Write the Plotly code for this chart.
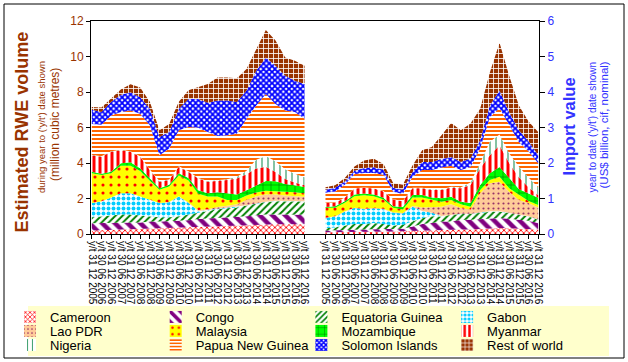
import plotly.graph_objects as go

# ---------------- data ----------------
periods = ["31 12 2005", "30 06 2006", "31 12 2006", "30 06 2007", "31 12 2007",
           "30 06 2008", "31 12 2008", "30 06 2009", "31 12 2009", "30 06 2010",
           "31 12 2010", "30 06 2011", "31 12 2011", "30 06 2012", "31 12 2012",
           "30 06 2013", "31 12 2013", "30 06 2014", "31 12 2014", "30 06 2015",
           "31 12 2015", "30 06 2016", "31 12 2016"]
tick_labels = ["y/t " + p for p in periods]

countries = ["Cameroon", "Congo", "Equatoria Guinea", "Gabon",
             "Lao PDR", "Malaysia", "Mozambique", "Myanmar",
             "Nigeria", "Papua New Guinea", "Solomon Islands", "Rest of world"]

# Estimated RWE volume (million m3), y/t at each date
cameroon_v = [0.20, 0.22, 0.25, 0.25, 0.28, 0.30, 0.30, 0.32, 0.35, 0.38, 0.40, 0.42, 0.45, 0.45, 0.48, 0.50, 0.50, 0.52, 0.55, 0.55, 0.55, 0.55, 0.55]
congo_v = [0.40, 0.40, 0.37, 0.40, 0.37, 0.35, 0.40, 0.38, 0.37, 0.37, 0.38, 0.43, 0.43, 0.45, 0.42, 0.45, 0.50, 0.53, 0.55, 0.55, 0.55, 0.55, 0.53]
eqguinea_v = [0.35, 0.38, 0.43, 0.45, 0.45, 0.40, 0.30, 0.25, 0.23, 0.25, 0.32, 0.35, 0.42, 0.50, 0.55, 0.55, 0.60, 0.65, 0.70, 0.75, 0.75, 0.75, 0.75]
gabon_v = [0.79, 0.83, 1.00, 1.19, 1.19, 1.06, 0.92, 0.79, 0.84, 1.11, 0.65, 0.10, 0.05, 0.02, 0.02, 0.02, 0.02, 0.02, 0.02, 0.02, 0.02, 0.02, 0.02]
lao_v = [0.01, 0.01, 0.01, 0.01, 0.01, 0.01, 0.01, 0.01, 0.01, 0.01, 0.02, 0.05, 0.05, 0.10, 0.12, 0.15, 0.30, 0.40, 0.40, 0.35, 0.30, 0.28, 0.25]
malaysia_v = [1.67, 1.49, 1.36, 1.55, 1.55, 1.43, 1.07, 0.74, 0.88, 1.17, 1.24, 0.92, 0.71, 0.59, 0.33, 0.25, 0.25, 0.22, 0.22, 0.20, 0.20, 0.20, 0.20]
mozambique_v = [0.09, 0.06, 0.09, 0.13, 0.19, 0.15, 0.14, 0.09, 0.09, 0.13, 0.14, 0.20, 0.18, 0.24, 0.37, 0.30, 0.30, 0.40, 0.55, 0.55, 0.45, 0.40, 0.35]
myanmar_v = [0.93, 0.96, 1.12, 0.74, 0.59, 0.65, 0.46, 0.37, 0.27, 0.37, 0.35, 0.66, 0.66, 0.64, 0.75, 0.91, 0.89, 0.95, 0.80, 0.53, 0.28, 0.15, 0.10]
nigeria_v = [0.03, 0.03, 0.03, 0.03, 0.03, 0.03, 0.03, 0.03, 0.03, 0.03, 0.03, 0.03, 0.03, 0.03, 0.05, 0.10, 0.20, 0.50, 0.60, 0.60, 0.55, 0.50, 0.45]
png_v = [1.73, 1.77, 2.02, 2.12, 2.30, 2.39, 2.49, 1.46, 1.74, 2.02, 2.50, 2.82, 2.77, 2.50, 2.47, 2.42, 2.93, 3.05, 3.50, 3.23, 3.31, 3.47, 3.29]
solomon_v = [0.80, 0.72, 0.75, 0.97, 1.03, 0.93, 0.93, 1.03, 0.94, 1.21, 1.57, 1.62, 1.64, 2.00, 1.96, 1.78, 1.59, 1.96, 2.05, 2.15, 1.96, 1.77, 1.96]
rest_v = [0.15, 0.25, 0.20, 0.30, 0.45, 0.55, 0.40, 0.37, 0.45, 0.40, 0.50, 0.66, 1.06, 1.30, 1.30, 1.34, 1.21, 1.20, 1.56, 1.42, 1.02, 1.12, 1.03]

# Import value (US$ billion, cif, nominal), y/t at each date
cameroon_p = [0.05, 0.05, 0.06, 0.06, 0.07, 0.07, 0.07, 0.07, 0.08, 0.09, 0.10, 0.12, 0.12, 0.12, 0.13, 0.13, 0.15, 0.16, 0.17, 0.16, 0.15, 0.14, 0.13]
congo_p = [0.05, 0.06, 0.06, 0.07, 0.06, 0.07, 0.07, 0.07, 0.07, 0.12, 0.18, 0.19, 0.23, 0.23, 0.27, 0.27, 0.27, 0.28, 0.28, 0.27, 0.25, 0.23, 0.18]
eqguinea_p = [0.07, 0.07, 0.12, 0.15, 0.15, 0.17, 0.14, 0.10, 0.11, 0.15, 0.17, 0.19, 0.14, 0.19, 0.16, 0.16, 0.17, 0.19, 0.18, 0.16, 0.14, 0.12, 0.09]
gabon_p = [0.28, 0.31, 0.39, 0.45, 0.42, 0.41, 0.42, 0.36, 0.32, 0.41, 0.20, 0.10, 0.02, 0.01, 0.01, 0.01, 0.01, 0.01, 0.01, 0.01, 0.01, 0.01, 0.01]
lao_p = [0.01, 0.01, 0.01, 0.01, 0.01, 0.01, 0.01, 0.01, 0.01, 0.02, 0.10, 0.17, 0.26, 0.29, 0.16, 0.11, 0.55, 0.79, 0.83, 0.59, 0.41, 0.37, 0.34]
malaysia_p = [0.28, 0.24, 0.24, 0.32, 0.38, 0.33, 0.26, 0.13, 0.10, 0.24, 0.28, 0.19, 0.14, 0.12, 0.11, 0.09, 0.09, 0.09, 0.14, 0.10, 0.14, 0.06, 0.07]
mozambique_p = [0.02, 0.04, 0.04, 0.05, 0.05, 0.05, 0.05, 0.04, 0.07, 0.07, 0.07, 0.07, 0.10, 0.09, 0.07, 0.10, 0.14, 0.19, 0.28, 0.28, 0.17, 0.21, 0.20]
myanmar_p = [0.12, 0.10, 0.10, 0.17, 0.16, 0.17, 0.18, 0.19, 0.16, 0.19, 0.19, 0.21, 0.23, 0.26, 0.38, 0.51, 0.47, 0.51, 0.61, 0.43, 0.33, 0.18, 0.08]
nigeria_p = [0.01, 0.01, 0.01, 0.01, 0.01, 0.01, 0.01, 0.01, 0.01, 0.01, 0.01, 0.02, 0.02, 0.02, 0.03, 0.07, 0.15, 0.38, 0.30, 0.27, 0.30, 0.27, 0.22]
png_p = [0.27, 0.31, 0.36, 0.40, 0.41, 0.43, 0.46, 0.21, 0.20, 0.31, 0.50, 0.54, 0.61, 0.59, 0.48, 0.44, 0.41, 0.69, 0.75, 0.79, 0.69, 0.74, 0.67]
solomon_p = [0.09, 0.10, 0.09, 0.09, 0.14, 0.16, 0.14, 0.11, 0.12, 0.14, 0.23, 0.23, 0.24, 0.25, 0.23, 0.24, 0.23, 0.33, 0.49, 0.37, 0.33, 0.28, 0.23]
rest_p = [0.07, 0.07, 0.10, 0.12, 0.21, 0.24, 0.16, 0.14, 0.14, 0.18, 0.33, 0.42, 0.67, 0.96, 0.89, 0.98, 0.89, 0.93, 1.35, 1.03, 0.70, 0.56, 0.65]

volume_series = [cameroon_v, congo_v, eqguinea_v, gabon_v, lao_v, malaysia_v,
                 mozambique_v, myanmar_v, nigeria_v, png_v, solomon_v, rest_v]
value_series = [cameroon_p, congo_p, eqguinea_p, gabon_p, lao_p, malaysia_p,
                mozambique_p, myanmar_p, nigeria_p, png_p, solomon_p, rest_p]

# ---------------- layout helpers ----------------
W, H = 628, 362
def PX(px):
    return px / W
def PY(py):
    return 1 - py / H

FONT = "Liberation Sans, Arial, sans-serif"
BROWN = "#993300"
BLUE = "#3333FF"

# month positions: half-yearly steps, gap of 13 months between the two panels
step = 6
left_x = [step * i for i in range(len(periods))]
right_x = [left_x[-1] + 13 + step * i for i in range(len(periods))]

styles = [
    dict(shape="x", fg="#FF0000", bg="#FFFFFF", size=4, sol=0.4),      # Cameroon
    dict(shape="\\", fg="#800080", bg="#FFFFFF", size=9, sol=0.5),     # Congo
    dict(shape="/", fg="#008000", bg="#FFFFFF", size=5, sol=0.4),      # Equatoria Guinea
    dict(shape=".", fg="#00CCFF", bg="#FFFFFF", size=5, sol=0.5),      # Gabon
    dict(shape=".", fg="#993366", bg="#FFCC99", size=5, sol=0.15),     # Lao PDR
    dict(shape=".", fg="#FF0000", bg="#FFFF00", size=8, sol=0.12),     # Malaysia
    dict(shape="+", fg="#008000", bg="#00FF00", size=8, sol=0.15),     # Mozambique
    dict(shape="|", fg="#FF0000", bg="#FFFFFF", size=6, sol=0.5),      # Myanmar
    dict(shape="|", fg="#339966", bg="#FFFFFF", size=6, sol=0.2),      # Nigeria
    dict(shape="-", fg="#FF6600", bg="#FFFFFF", size=4, sol=0.5),      # Papua New Guinea
    dict(shape="x", fg="#0000FF", bg="#FFFFFF", size=4, sol=0.7),      # Solomon Islands
    dict(shape="+", fg="#FFFFFF", bg="#993300", size=5, sol=0.3),      # Rest of world
]

def pat(st):
    return dict(shape=st["shape"], fgcolor=st["fg"], bgcolor=st["bg"],
                size=st["size"], solidity=st["sol"], fillmode="replace")

fig = go.Figure()

for name, vals, st in zip(countries, volume_series, styles):
    fig.add_trace(go.Scatter(
        x=left_x, y=vals, name=name, stackgroup="vol", mode="lines",
        line=dict(width=0, color=st["fg"]), fillcolor=st["bg"], fillpattern=pat(st),
        legendgroup=name, showlegend=False, xaxis="x", yaxis="y"))

for name, vals, st in zip(countries, value_series, styles):
    fig.add_trace(go.Scatter(
        x=right_x, y=vals, name=name, stackgroup="val", mode="lines",
        line=dict(width=0, color=st["fg"]), fillcolor=st["bg"], fillpattern=pat(st),
        legendgroup=name, showlegend=False, xaxis="x", yaxis="y2"))

legend_ids = ["legend", "legend2", "legend3"]
for i, (name, st) in enumerate(zip(countries, styles)):
    fig.add_trace(go.Bar(
        x=[None], y=[None], name=name, legendgroup=name, legend=legend_ids[i // 4],
        marker=dict(color=st["bg"], pattern=pat(st), line=dict(width=0)),
        showlegend=True, xaxis="x", yaxis="y"))

leg_common = dict(orientation="h", xanchor="left", yanchor="top", x=PX(10),
                  entrywidth=100.7, entrywidthmode="pixels", bgcolor="rgba(0,0,0,0)",
                  borderwidth=0, font=dict(family=FONT, size=13, color="black"),
                  traceorder="normal", tracegroupgap=0)

fig.update_layout(
    width=W, height=H,
    margin=dict(l=0, r=0, t=0, b=0),
    paper_bgcolor="white", plot_bgcolor="white",
    font=dict(family=FONT, color="black"),
    showlegend=True,
    legend=dict(leg_common, y=PY(302)),
    legend2=dict(leg_common, y=PY(316)),
    legend3=dict(leg_common, y=PY(330)),
    xaxis=dict(domain=[PX(91), PX(539)], range=[-0.5, 277.5],
               tickmode="array", tickvals=left_x + right_x, ticktext=tick_labels + tick_labels,
               tickangle=90, ticks="outside", ticklen=4, tickcolor="black",
               showline=True, linecolor="black", linewidth=1, mirror=True,
               showgrid=False, zeroline=False, automargin=False,
               tickfont=dict(family=FONT, size=10, color="black")),
    yaxis=dict(domain=[PY(234), PY(21)], range=[0, 12], tick0=0, dtick=2,
               ticks="outside", ticklen=4, tickcolor="black",
               showline=True, linecolor="black", linewidth=1,
               showgrid=False, zeroline=False, automargin=False,
               tickfont=dict(family=FONT, size=12, color=BROWN)),
    yaxis2=dict(overlaying="y", side="right", anchor="x", range=[0, 6], tick0=0, dtick=1,
                ticks="outside", ticklen=5, tickcolor="black",
                showline=True, linecolor="black", linewidth=1,
                showgrid=False, zeroline=False, automargin=False,
                tickfont=dict(family=FONT, size=12, color=BLUE)),
    shapes=[
        dict(type="rect", xref="paper", yref="paper", x0=PX(28), x1=PX(609),
             y0=PY(356), y1=PY(306), fillcolor="#FFFFCC", line=dict(width=0), layer="below"),
        dict(type="rect", xref="paper", yref="paper", x0=PX(4), x1=PX(624),
             y0=PY(358), y1=PY(4), fillcolor="rgba(0,0,0,0)", line=dict(color="black", width=1)),
    ],
    annotations=[
        dict(text="<b>Estimated RWE volume</b>", x=PX(21), y=PY(132.5), xref="paper", yref="paper",
             textangle=-90, showarrow=False, xanchor="center", yanchor="middle",
             font=dict(family=FONT, size=18, color=BROWN)),
        dict(text="during year to ('y/t') date shown", x=PX(41.5), y=PY(127.5), xref="paper", yref="paper",
             textangle=-90, showarrow=False, xanchor="center", yanchor="middle",
             font=dict(family=FONT, size=9.5, color=BROWN)),
        dict(text="(million cubic metres)", x=PX(55), y=PY(125), xref="paper", yref="paper",
             textangle=-90, showarrow=False, xanchor="center", yanchor="middle",
             font=dict(family=FONT, size=12, color=BROWN)),
        dict(text="<b>Import value</b>", x=PX(569), y=PY(126.5), xref="paper", yref="paper",
             textangle=-90, showarrow=False, xanchor="center", yanchor="middle",
             font=dict(family=FONT, size=16.5, color=BLUE)),
        dict(text="year to date ('y/t') date shown", x=PX(591.5), y=PY(127), xref="paper", yref="paper",
             textangle=-90, showarrow=False, xanchor="center", yanchor="middle",
             font=dict(family=FONT, size=10, color=BLUE)),
        dict(text="(US$ billion, cif, nominal)", x=PX(603.5), y=PY(125), xref="paper", yref="paper",
             textangle=-90, showarrow=False, xanchor="center", yanchor="middle",
             font=dict(family=FONT, size=11.5, color=BLUE)),
    ],
)

fig.write_html("out.html", config={"displayModeBar": False},
               post_script="document.body.style.margin='0px';document.body.style.padding='0px';")
